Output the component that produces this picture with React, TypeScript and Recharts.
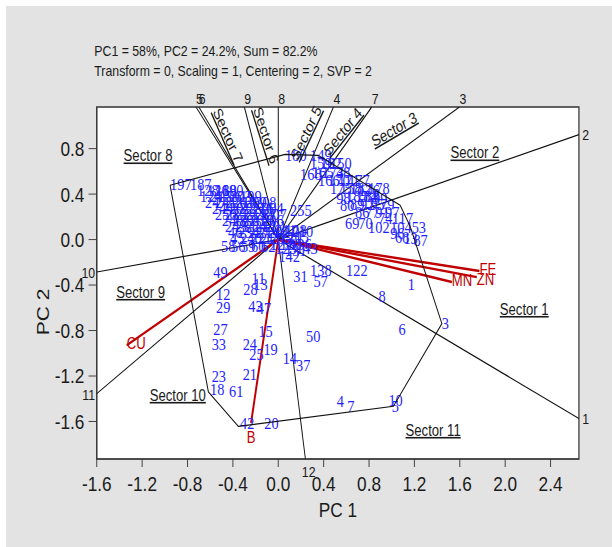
import {
  CartesianGrid,
  ReferenceArea,
  ReferenceLine,
  Scatter,
  ScatterChart,
  XAxis,
  YAxis,
} from "recharts";

type Row = [string, number, number];

// the reference was drawn with a condensed face, so the whole chart is squeezed sideways
const SQUEEZE = 0.82;
const CHART_W = 746;
const CHART_H = 547;

const FONT_SANS = "'Liberation Sans', Arial, sans-serif";
const FONT_SERIF = "'Liberation Serif', 'Times New Roman', serif";
const BLUE = "#1f1fff";
const RED = "#c00000";
const INK = "#1a1a1a";

const X_DOMAIN: [number, number] = [-1.6, 2.65];
const Y_DOMAIN: [number, number] = [-1.93, 1.166];
const X_TICKS = [-1.6, -1.2, -0.8, -0.4, 0, 0.4, 0.8, 1.2, 1.6, 2.0, 2.4];
const Y_TICKS = [-1.6, -1.2, -0.8, -0.4, 0, 0.4, 0.8];

// where each sector ray leaves the frame
const rayEnds: Row[] = [
  ["1", 2.65, -1.574],
  ["2", 2.65, 0.923],
  ["3", 1.597, 1.166],
  ["4", 0.486, 1.166],
  ["5", -0.725, 1.166],
  ["6", -0.7, 1.166],
  ["7", 0.824, 1.166],
  ["8", 0.0, 1.166],
  ["9", -0.299, 1.166],
  ["10", -1.6, -0.285],
  ["11", -1.6, -1.355],
  ["12", 0.239, -1.93],
];

// polygon through the outermost genotypes
const hullVertices: [number, number][] = [
  [-0.954, 0.478],
  [0.06, 0.75],
  [0.351, 0.741],
  [1.074, 0.302],
  [1.162, 0.117],
  [1.442, -0.739],
  [1.015, -1.466],
  [-0.352, -1.643],
  [-0.616, -1.34],
  [-0.954, 0.478],
];

// environment vectors
const environments: Row[] = [
  ["FE", 1.773, -0.276],
  ["ZN", 1.75, -0.33],
  ["MN", 1.53, -0.373],
  ["CU", -1.336, -0.93],
  ["B", -0.24, -1.613],
];

const sectorNames: Row[] = [
  ["Sector 1", 2.168, -0.613],
  ["Sector 2", 1.733, 0.763],
  ["Sector 3", 1.021, 0.97],
  ["Sector 4", 0.567, 0.952],
  ["Sector 5", 0.245, 0.939],
  ["Sector 6", -0.108, 0.917],
  ["Sector 7", -0.443, 0.917],
  ["Sector 8", -1.148, 0.737],
  ["Sector 9", -1.213, -0.463],
  ["Sector 10", -0.886, -1.369],
  ["Sector 11", 1.365, -1.677],
];

const outerGenotypes: Row[] = [
  ["49", -0.573, -0.285],
  ["12", -0.549, -0.481],
  ["29", -0.549, -0.598],
  ["27", -0.573, -0.783],
  ["33", -0.587, -0.915],
  ["23", -0.587, -1.202],
  ["18", -0.601, -1.319],
  ["61", -0.434, -1.332],
  ["21", -0.314, -1.185],
  ["24", -0.314, -0.915],
  ["25", -0.255, -1.009],
  ["19", -0.131, -0.959],
  ["15", -0.175, -0.804],
  ["43", -0.264, -0.587],
  ["47", -0.19, -0.602],
  ["28", -0.308, -0.431],
  ["11", -0.235, -0.338],
  ["13", -0.22, -0.387],
  ["42", -0.337, -1.613],
  ["20", -0.123, -1.618],
  ["14", 0.039, -1.038],
  ["37", 0.157, -1.106],
  ["50", 0.245, -0.85],
  ["31", 0.133, -0.323],
  ["138", 0.28, -0.264],
  ["57", 0.31, -0.367],
  ["142", 0.001, -0.147],
  ["4", 0.515, -1.422],
  ["7", 0.609, -1.466],
  ["122", 0.598, -0.264],
  ["1", 1.141, -0.387],
  ["8", 0.883, -0.499],
  ["6", 1.059, -0.783],
  ["3", 1.442, -0.733],
  ["10", 0.971, -1.413],
  ["5", 1.0, -1.466],
];

const upperRightGenotypes: Row[] = [
  ["53", 1.176, 0.111],
  ["104", 0.986, 0.111],
  ["87", 1.191, -0.006],
  ["13", 1.103, 0.009],
  ["68", 1.03, 0.02],
  ["96", 0.986, 0.053],
  ["69", 0.589, 0.141],
  ["70", 0.706, 0.141],
  ["102", 0.792, 0.111],
  ["255", 0.104, 0.258],
  ["210", 0.119, 0.076],
  ["180", 0.06, 0.741],
  ["149", 0.28, 0.741],
  ["168", 0.192, 0.58],
  ["48", 0.51, 0.592],
  ["176", 0.704, 0.434],
  ["99", 0.836, 0.363],
  ["98", 0.51, 0.363],
  ["80", 0.545, 0.302],
  ["159", 0.28, 0.671],
  ["162", 0.369, 0.671],
  ["150", 0.457, 0.671],
  ["165", 0.298, 0.592],
  ["173", 0.386, 0.592],
  ["166", 0.351, 0.521],
  ["170", 0.439, 0.521],
  ["171", 0.527, 0.521],
  ["177", 0.616, 0.521],
  ["175", 0.457, 0.451],
  ["158", 0.545, 0.451],
  ["182", 0.633, 0.451],
  ["178", 0.792, 0.451],
  ["185", 0.598, 0.381],
  ["184", 0.686, 0.381],
  ["83", 0.765, 0.381],
  ["89", 0.633, 0.31],
  ["92", 0.721, 0.31],
  ["95", 0.81, 0.31],
  ["79", 0.898, 0.31],
  ["86", 0.677, 0.24],
  ["77", 0.765, 0.24],
  ["91", 0.854, 0.24],
  ["97", 0.941, 0.24],
  ["74", 0.88, 0.187],
  ["117", 1.003, 0.187],
];

const upperLeftGenotypes: Row[] = [
  ["197", -0.954, 0.486],
  ["187", -0.778, 0.486],
  ["128", -0.716, 0.434],
  ["126", -0.628, 0.434],
  ["188", -0.557, 0.434],
  ["190", -0.496, 0.434],
  ["124", -0.69, 0.381],
  ["215", -0.601, 0.381],
  ["196", -0.513, 0.381],
  ["203", -0.425, 0.381],
  ["199", -0.337, 0.381],
  ["247", -0.646, 0.328],
  ["241", -0.557, 0.328],
  ["226", -0.469, 0.328],
  ["218", -0.381, 0.328],
  ["209", -0.293, 0.328],
  ["208", -0.205, 0.328],
  ["244", -0.584, 0.275],
  ["220", -0.496, 0.275],
  ["232", -0.407, 0.275],
  ["229", -0.319, 0.275],
  ["216", -0.231, 0.275],
  ["204", -0.143, 0.275],
  ["250", -0.557, 0.223],
  ["235", -0.469, 0.223],
  ["222", -0.381, 0.223],
  ["213", -0.293, 0.223],
  ["237", -0.205, 0.223],
  ["207", -0.116, 0.223],
  ["248", -0.496, 0.17],
  ["239", -0.407, 0.17],
  ["228", -0.319, 0.17],
  ["219", -0.231, 0.17],
  ["206", -0.143, 0.17],
  ["243", -0.469, 0.117],
  ["231", -0.381, 0.117],
  ["224", -0.293, 0.117],
  ["212", -0.205, 0.117],
  ["201", -0.116, 0.117],
  ["46", -0.443, 0.064],
  ["234", -0.354, 0.064],
  ["227", -0.266, 0.064],
  ["214", -0.178, 0.064],
  ["202", -0.09, 0.064],
  ["45", -0.425, 0.011],
  ["240", -0.337, 0.011],
  ["221", -0.249, 0.011],
  ["217", -0.16, 0.011],
  ["205", -0.072, 0.011],
  ["58", -0.504, -0.059],
  ["56", -0.416, -0.059],
  ["59", -0.328, -0.059],
  ["60", -0.24, -0.059],
  ["62", -0.152, -0.059],
];

const centreGenotypes: Row[] = [
  ["211", -0.028, 0.082],
  ["108", 0.06, 0.082],
  ["120", 0.016, 0.02],
  ["115", 0.086, 0.02],
  ["125", -0.072, -0.041],
  ["130", 0.016, -0.041],
  ["136", 0.104, -0.041],
  ["123", -0.028, -0.077],
  ["143", 0.157, -0.077],
  ["131", 0.06, -0.094],
];

const sectorAngles: Record<string, number> = {
  "Sector 3": -26,
  "Sector 4": -46,
  "Sector 5": -60,
  "Sector 6": 69,
  "Sector 7": 62,
};

function toPoints(rows: Row[]) {
  return rows.map(([name, pc1, pc2]) => ({ name, pc1, pc2 }));
}

const hullPoints = hullVertices.map(([pc1, pc2]) => ({ pc1, pc2 }));
const genotypePoints = toPoints([
  ...upperLeftGenotypes,
  ...centreGenotypes,
  ...upperRightGenotypes,
  ...outerGenotypes,
]);

function Nothing() {
  return <g />;
}

function GenotypeText(props: any) {
  const { cx, cy, payload } = props;
  return (
    <text
      x={cx}
      y={cy}
      dy="0.34em"
      fill={BLUE}
      fontFamily={FONT_SERIF}
      fontSize={17.5}
    >
      {payload.name}
    </text>
  );
}

function RayText(props: any) {
  const { cx, cy, payload } = props;
  let x = cx;
  let y = cy;
  let anchor = "start";
  if (payload.pc2 >= Y_DOMAIN[1]) {
    y = cy - 3;
  } else if (payload.pc1 >= X_DOMAIN[1]) {
    x = cx + 4;
    y = cy + 5;
  } else if (payload.pc1 <= X_DOMAIN[0]) {
    x = cx - 2;
    y = cy + 6;
    anchor = "end";
  } else {
    x = cx + 4;
    y = cy + 18;
    anchor = "middle";
  }
  return (
    <text
      x={x}
      y={y}
      textAnchor={anchor}
      fill={INK}
      fontFamily={FONT_SANS}
      fontSize={15}
    >
      {payload.name}
    </text>
  );
}

function EnvText(props: any) {
  const { cx, cy, payload } = props;
  const below = payload.name === "B";
  return (
    <text
      x={cx}
      y={below ? cy + 14 : cy + (payload.name === "ZN" ? 2 : -2)}
      dy="0.35em"
      textAnchor={below ? "middle" : "start"}
      fill={RED}
      fontFamily={FONT_SANS}
      fontSize={16}
    >
      {payload.name}
    </text>
  );
}

function SectorText(props: any) {
  const { cx, cy, payload } = props;
  const angle = sectorAngles[payload.name] ?? 0;
  return (
    <text
      x={cx}
      y={cy}
      dy="0.35em"
      textAnchor="middle"
      transform={angle ? `rotate(${angle} ${cx} ${cy})` : undefined}
      textDecoration="underline"
      fill={INK}
      fontFamily={FONT_SANS}
      fontSize={16}
    >
      {payload.name}
    </text>
  );
}

function Pc2Title() {
  return (
    <text
      x={52}
      y={312}
      transform="rotate(-90 52 312)"
      textAnchor="middle"
      dy="0.35em"
      fill={INK}
      fontFamily={FONT_SANS}
      fontSize={21}
    >
      PC 2
    </text>
  );
}

export default function App() {
  return (
    <div
      style={{
        position: "absolute",
        left: 0,
        top: 0,
        width: 612,
        height: 547,
        background: "#fff",
        overflow: "hidden",
      }}
    >
      <div
        style={{
          position: "absolute",
          left: 6,
          top: 6,
          right: 0,
          bottom: 0,
          background: "#e2e3e2",
        }}
      />
      <div
        style={{
          position: "absolute",
          left: 0,
          top: 0,
          width: CHART_W,
          height: CHART_H,
          transform: `scaleX(${SQUEEZE})`,
          transformOrigin: "0 0",
        }}
      >
        <div
          style={{
            position: "absolute",
            left: 115,
            top: 41,
            fontFamily: FONT_SANS,
            fontSize: 15,
            lineHeight: "19.5px",
            color: INK,
            whiteSpace: "nowrap",
          }}
        >
          <div>PC1 = 58%, PC2 = 24.2%, Sum = 82.2%</div>
          <div>Transform = 0, Scaling = 1, Centering = 2, SVP = 2</div>
        </div>

        <ScatterChart
          width={CHART_W}
          height={CHART_H}
          margin={{ top: 107, right: 40, bottom: 48, left: 58 }}
          style={{ position: "absolute", left: 0, top: 0 }}
        >
          <CartesianGrid fill="#fff" horizontal={false} vertical={false} />
          <XAxis
            type="number"
            dataKey="pc1"
            domain={X_DOMAIN}
            ticks={X_TICKS}
            tickFormatter={(v: number) => v.toFixed(1)}
            height={40}
            tickSize={8}
            tickMargin={9}
            stroke="#333"
            tick={{ fill: INK, fontSize: 21, fontFamily: FONT_SANS }}
            label={{
              value: "PC 1",
              position: "bottom",
              offset: 3,
              fill: INK,
              fontSize: 21,
              fontFamily: FONT_SANS,
            }}
          />
          <YAxis
            type="number"
            dataKey="pc2"
            domain={Y_DOMAIN}
            ticks={Y_TICKS}
            tickFormatter={(v: number) => v.toFixed(1)}
            width={60}
            tickSize={10}
            tickMargin={5}
            stroke="#333"
            tick={{ fill: INK, fontSize: 21, fontFamily: FONT_SANS }}
            label={{ content: Pc2Title }}
          />

          <Scatter
            data={genotypePoints}
            shape={GenotypeText}
            isAnimationActive={false}
          />

          <Scatter
            data={hullPoints}
            shape={Nothing}
            line={{ stroke: "#111", strokeWidth: 1.2 }}
            isAnimationActive={false}
          />

          {rayEnds.map(([name, pc1, pc2]) => (
            <ReferenceLine
              key={`ray-${name}`}
              segment={[
                { x: 0, y: 0 },
                { x: pc1, y: pc2 },
              ]}
              stroke="#111"
              strokeWidth={1.2}
              ifOverflow="visible"
            />
          ))}

          {environments.map(([name, pc1, pc2]) => (
            <ReferenceLine
              key={`env-${name}`}
              segment={[
                { x: 0, y: 0 },
                { x: pc1, y: pc2 },
              ]}
              stroke={RED}
              strokeWidth={2.4}
              ifOverflow="visible"
            />
          ))}

          <Scatter
            data={toPoints(sectorNames)}
            shape={SectorText}
            isAnimationActive={false}
          />
          <Scatter
            data={toPoints(environments)}
            shape={EnvText}
            isAnimationActive={false}
          />
          <Scatter
            data={toPoints(rayEnds)}
            shape={RayText}
            isAnimationActive={false}
          />

          <ReferenceArea
            x1={X_DOMAIN[0]}
            x2={X_DOMAIN[1]}
            y1={Y_DOMAIN[0]}
            y2={Y_DOMAIN[1]}
            fill="none"
            stroke="#333"
            strokeWidth={1.5}
            ifOverflow="visible"
          />
        </ScatterChart>
      </div>
    </div>
  );
}
